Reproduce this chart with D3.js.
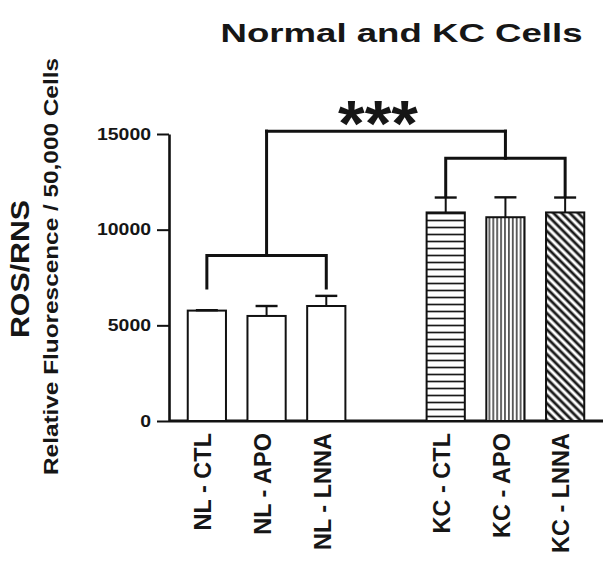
<!DOCTYPE html>
<html>
<head>
<meta charset="utf-8">
<script src="https://cdn.jsdelivr.net/npm/d3@7"></script>
<style>
  html, body { margin: 0; padding: 0; background: #fff; }
  svg { display: block; }
  text { font-family: "Liberation Sans", Arial, sans-serif; font-weight: bold; fill: #161616; }
</style>
</head>
<body>
<svg id="chart" width="616" height="564"></svg>
<script>
// ---------- data ----------
const title = "Normal and KC Cells";
const yLabelMain = "ROS/RNS";
const yLabelSub = "Relative Fluorescence / 50,000 Cells";
const categories = ["NL - CTL", "NL - APO", "NL - LNNA", "KC - CTL", "KC - APO", "KC - LNNA"];
const slots = ["NL - CTL", "NL - APO", "NL - LNNA", "", "KC - CTL", "KC - APO", "KC - LNNA"];
const means = [5770, 5490, 6010, 10900, 10650, 10900];
const errors = [20, 520, 530, 780, 1040, 780];
const yTicks = [0, 5000, 10000, 15000];
const groupBrackets = [
  { from: "NL - CTL", to: "NL - LNNA", level: 8650, legEnd: 6950 },
  { from: "KC - CTL", to: "KC - LNNA", level: 13730, legEnd: 11760 }
];
const topBracketLevel = 15150;
const sigLabel = "***";
const barPatterns = ["plain", "plain", "plain", "horiz", "vert", "diag"];

// ---------- layout ----------
const svg = d3.select("#chart");
const ink = "#111";

const x = d3.scaleBand().domain(slots).range([177, 595]).paddingInner(0.36).paddingOuter(0.18);
const y = d3.scaleLinear().domain([0, 15000]).range([421, 134]);
const cx = c => x(c) + x.bandwidth() / 2;

// patterns
const defs = svg.append("defs");
const ph = defs.append("pattern").attr("id", "horiz").attr("patternUnits", "userSpaceOnUse")
  .attr("width", 8).attr("height", 7);
ph.append("rect").attr("width", 8).attr("height", 7).attr("fill", "#fff");
ph.append("line").attr("x1", 0).attr("x2", 8).attr("y1", 3.5).attr("y2", 3.5)
  .attr("stroke", "#1a1a1a").attr("stroke-width", 1.7);

const pv = defs.append("pattern").attr("id", "vert").attr("patternUnits", "userSpaceOnUse")
  .attr("width", 3.9).attr("height", 8);
pv.append("rect").attr("width", 3.9).attr("height", 8).attr("fill", "#fff");
pv.append("line").attr("x1", 1.9).attr("x2", 1.9).attr("y1", 0).attr("y2", 8)
  .attr("stroke", "#111").attr("stroke-width", 1.3);

const pd = defs.append("pattern").attr("id", "diag").attr("patternUnits", "userSpaceOnUse")
  .attr("width", 5.8).attr("height", 10).attr("patternTransform", "rotate(-45)");
pd.append("rect").attr("width", 5.8).attr("height", 10).attr("fill", "#fff");
pd.append("line").attr("x1", 2.9).attr("x2", 2.9).attr("y1", 0).attr("y2", 10)
  .attr("stroke", "#1a1a1a").attr("stroke-width", 2.8);

const fillFor = p => p === "plain" ? "#fff" : `url(#${p})`;

// title
svg.append("text")
  .attr("x", 401.5).attr("y", 42)
  .attr("text-anchor", "middle")
  .attr("font-size", 26)
  .attr("textLength", 362).attr("lengthAdjust", "spacingAndGlyphs")
  .text(title);

// y axis
const yAxis = d3.axisLeft(y).tickValues(yTicks).tickSize(12).tickSizeOuter(0).tickPadding(6)
  .tickFormat(d3.format("d"));
const gy = svg.append("g").attr("transform", "translate(169,0)").call(yAxis);
gy.select(".domain").attr("stroke", ink).attr("stroke-width", 2.6);
gy.selectAll(".tick line").attr("stroke", ink).attr("stroke-width", 2);
gy.selectAll(".tick text")
  .attr("font-size", 16.5).attr("font-family", "\"Liberation Sans\", Arial, sans-serif")
  .attr("font-weight", "bold").attr("fill", "#161616")
  .attr("x", -18)
  .attr("textLength", d => String(d).length * 10.8)
  .attr("lengthAdjust", "spacingAndGlyphs");

// x axis baseline
svg.append("line")
  .attr("x1", 169).attr("x2", 603)
  .attr("y1", y(0)).attr("y2", y(0))
  .attr("stroke", ink).attr("stroke-width", 2.8);

// y labels
svg.append("text")
  .attr("transform", "translate(29,269) rotate(-90)")
  .attr("text-anchor", "middle")
  .attr("font-size", 25)
  .attr("textLength", 138).attr("lengthAdjust", "spacingAndGlyphs")
  .text(yLabelMain);
svg.append("text")
  .attr("transform", "translate(58,266.5) rotate(-90)")
  .attr("text-anchor", "middle")
  .attr("font-size", 19.5)
  .attr("textLength", 417).attr("lengthAdjust", "spacingAndGlyphs")
  .text(yLabelSub);

// bars
const bars = svg.append("g");
categories.forEach((c, i) => {
  bars.append("rect")
    .attr("x", x(c)).attr("width", x.bandwidth())
    .attr("y", y(means[i])).attr("height", y(0) - y(means[i]))
    .attr("fill", fillFor(barPatterns[i]))
    .attr("stroke", ink).attr("stroke-width", 2);
  // error bar (upper whisker)
  const top = y(means[i] + errors[i]);
  bars.append("line")
    .attr("x1", cx(c)).attr("x2", cx(c))
    .attr("y1", y(means[i])).attr("y2", top)
    .attr("stroke", ink).attr("stroke-width", 2);
  bars.append("line")
    .attr("x1", cx(c) - 11).attr("x2", cx(c) + 11)
    .attr("y1", top).attr("y2", top)
    .attr("stroke", ink).attr("stroke-width", 2.4);
});

// x labels
categories.forEach(c => {
  svg.append("text")
    .attr("transform", `translate(${cx(c) - 4},433) rotate(-90)`)
    .attr("text-anchor", "end")
    .attr("dy", "0.35em")
    .attr("font-size", 23.5)
    .text(c);
});

// brackets
const br = svg.append("g").attr("fill", "none").attr("stroke", ink)
  .attr("stroke-width", 3).attr("stroke-linejoin", "miter").attr("stroke-linecap", "square");
const mids = [];
groupBrackets.forEach(b => {
  const x1 = cx(b.from), x2 = cx(b.to);
  br.append("path").attr("d",
    `M${x1},${y(b.legEnd)} V${y(b.level)} H${x2} V${y(b.legEnd)}`);
  const m = (x1 + x2) / 2;
  mids.push(m);
  br.append("line").attr("x1", m).attr("x2", m)
    .attr("y1", y(b.level)).attr("y2", y(topBracketLevel));
});
br.append("line").attr("x1", mids[0]).attr("x2", mids[1])
  .attr("y1", y(topBracketLevel)).attr("y2", y(topBracketLevel));

// significance stars
svg.append("text")
  .attr("x", 378).attr("y", 146)
  .attr("text-anchor", "middle")
  .attr("font-size", 64)
  .attr("textLength", 80).attr("lengthAdjust", "spacingAndGlyphs")
  .text(sigLabel);
</script>
</body>
</html>
